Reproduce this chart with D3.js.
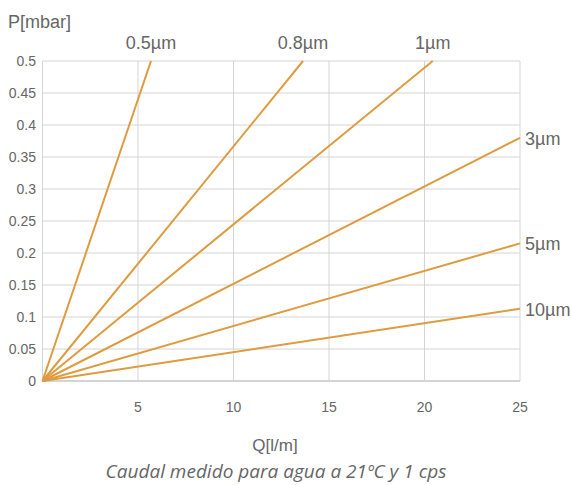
<!DOCTYPE html>
<html lang="es">
<head>
  <meta charset="UTF-8">
  <title>P vs Q</title>
  <script src="https://d3js.org/d3.v7.min.js"></script>
  <style>
    body { margin: 0; background: #fff; }
    text { font-family: "Liberation Sans", Arial, sans-serif; fill: #666; }
  </style>
</head>
<body>
  <script>
    // series: end point of each line (starts at 0,0)
    const series = ["0.5µm", "0.8µm", "1µm", "3µm", "5µm", "10µm"];
    const qValues = [[0, 5.68], [0, 13.64], [0, 20.43], [0, 25], [0, 25], [0, 25]];
    const pValues = [[0, 0.5], [0, 0.5], [0, 0.5], [0, 0.380], [0, 0.215], [0, 0.113]];
    const xTicks = [5, 10, 15, 20, 25];
    const yTicks = [0, 0.05, 0.1, 0.15, 0.2, 0.25, 0.3, 0.35, 0.4, 0.45, 0.5];

    const width = 571, height = 485;
    const m = { left: 42.5, right: 51, top: 61, bottom: 104 };

    const svg = d3.select("body").append("svg")
      .attr("width", width)
      .attr("height", height);

    const x = d3.scaleLinear().domain([0, 25]).range([m.left, width - m.right]);
    const y = d3.scaleLinear().domain([0, 0.5]).range([height - m.bottom, m.top]);

    // grid
    svg.append("g").selectAll("line")
      .data(yTicks)
      .enter().append("line")
      .attr("x1", x(0)).attr("x2", x(25))
      .attr("y1", d => y(d)).attr("y2", d => y(d))
      .attr("stroke", "#d4d4d4").attr("stroke-width", 1);

    svg.append("g").selectAll("line")
      .data([0].concat(xTicks))
      .enter().append("line")
      .attr("x1", d => x(d)).attr("x2", d => x(d))
      .attr("y1", y(0)).attr("y2", y(0.5))
      .attr("stroke", "#d4d4d4").attr("stroke-width", 1);

    svg.append("line")
      .attr("x1", x(0)).attr("x2", x(25))
      .attr("y1", y(0)).attr("y2", y(0))
      .attr("stroke", "#d4d4d4").attr("stroke-width", 2);

    // tick labels
    svg.append("g").selectAll("text")
      .data(yTicks)
      .enter().append("text")
      .attr("x", 36).attr("y", d => y(d) + 5)
      .attr("text-anchor", "end")
      .style("font-size", "14px")
      .text(d => d);

    svg.append("g").selectAll("text")
      .data(xTicks)
      .enter().append("text")
      .attr("x", d => x(d)).attr("y", 412)
      .attr("text-anchor", "middle")
      .style("font-size", "14px")
      .text(d => d);

    // lines
    const line = d3.line().x(d => x(d[0])).y(d => y(d[1]));
    const lineData = series.map((s, i) => ({
      name: s,
      pts: qValues[i].map((q, j) => [q, pValues[i][j]])
    }));

    svg.append("g").selectAll("path")
      .data(lineData)
      .enter().append("path")
      .attr("d", d => line(d.pts))
      .attr("fill", "none")
      .attr("stroke", "#DE9B3F")
      .attr("stroke-width", 2);

    // line labels
    svg.append("g").selectAll("text")
      .data(lineData)
      .enter().append("text")
      .attr("x", d => {
        const end = d.pts[d.pts.length - 1];
        return end[1] >= 0.5 ? x(end[0]) : x(25) + 5;
      })
      .attr("y", d => {
        const end = d.pts[d.pts.length - 1];
        return end[1] >= 0.5 ? y(0.5) - 12 : y(end[1]) + 7;
      })
      .attr("text-anchor", d => d.pts[d.pts.length - 1][1] >= 0.5 ? "middle" : "start")
      .style("font-size", "18px")
      .text(d => d.name);

    // axis titles
    svg.append("text")
      .attr("x", 8).attr("y", 28)
      .style("font-size", "18px")
      .text("P[mbar]");

    svg.append("text")
      .attr("x", 275).attr("y", 451)
      .attr("text-anchor", "middle")
      .style("font-size", "17px")
      .text("Q[l/m]");

    svg.append("text")
      .attr("x", 276).attr("y", 478)
      .attr("text-anchor", "middle")
      .style("font-family", "'Open Sans', sans-serif")
      .style("font-style", "italic")
      .style("font-size", "19px")
      .text("Caudal medido para agua a 21ºC y 1 cps");
  </script>
</body>
</html>
